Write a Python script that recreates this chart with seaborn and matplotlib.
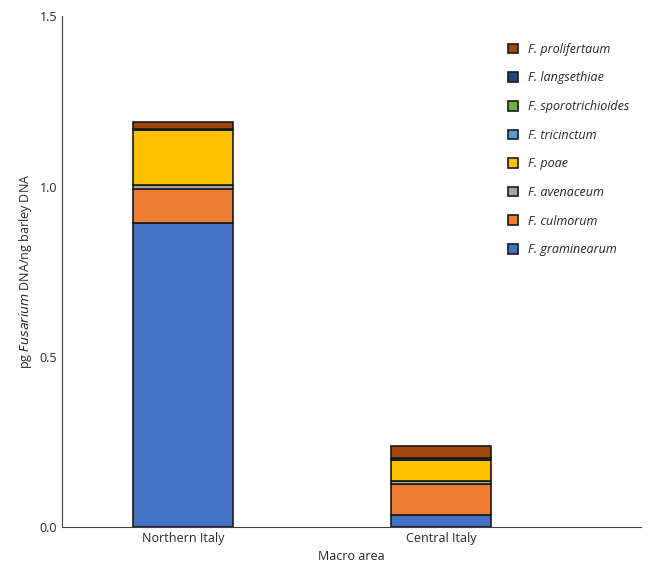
import numpy as np
import pandas as pd
import matplotlib
matplotlib.use('Agg')
import matplotlib.pyplot as plt
import seaborn as sns

areas = ['Northern Italy', 'Central Italy']
species = ['F. graminearum', 'F. culmorum', 'F. avenaceum', 'F. poae',
           'F. tricinctum', 'F. sporotrichioides', 'F. langsethiae', 'F. prolifertaum']
values = {
    'F. graminearum':      [0.892, 0.035],
    'F. culmorum':         [0.100, 0.091],
    'F. avenaceum':        [0.013, 0.008],
    'F. poae':             [0.160, 0.062],
    'F. tricinctum':       [0.001, 0.001],
    'F. sporotrichioides': [0.001, 0.001],
    'F. langsethiae':      [0.003, 0.005],
    'F. prolifertaum':     [0.020, 0.036],
}
colors = ['#4472C4', '#ED7D31', '#A5A5A5', '#FFC000',
          '#5B9BD5', '#70AD47', '#264478', '#9E480E']

sns.set_style('white')
plt.rcParams['font.family'] = ['Open Sans', 'DejaVu Sans']

fig = plt.figure(figsize=(6.54, 5.81), dpi=100)
ax = fig.add_axes([0.095, 0.093, 0.885, 0.879])

bottom = np.zeros(len(areas))
for sp, c in zip(species, colors):
    df = pd.DataFrame({'area': areas, 'v': values[sp]})
    sns.barplot(data=df, x='area', y='v', color=c, bottom=bottom, width=0.39,
                edgecolor='#1a1a1a', linewidth=1.2, label=sp, ax=ax, saturation=1)
    bottom += np.array(values[sp])

ax.set_xlim(-0.469, 1.775)
ax.set_ylim(0, 1.5)
ax.set_yticks([0, 0.5, 1.0, 1.5])
ax.set_yticklabels(['0.0', '0.5', '1.0', '1.5'])
ax.set_xlabel('Macro area', fontsize=9)
ax.set_ylabel('pg $\\it{Fusarium}$ DNA/ng barley DNA', fontsize=9)
ax.tick_params(labelsize=9, length=0)
for s in ['top', 'right']:
    ax.spines[s].set_visible(False)
for s in ['left', 'bottom']:
    ax.spines[s].set_color('#404040')

h, l = ax.get_legend_handles_labels()
leg = ax.legend(h[::-1], l[::-1], loc='upper right', bbox_to_anchor=(1.0, 0.97),
                frameon=False, handlelength=0.8, handleheight=0.8,
                labelspacing=1.25, prop={'style': 'italic', 'size': 9})
fig.savefig('out.png', dpi=100)
